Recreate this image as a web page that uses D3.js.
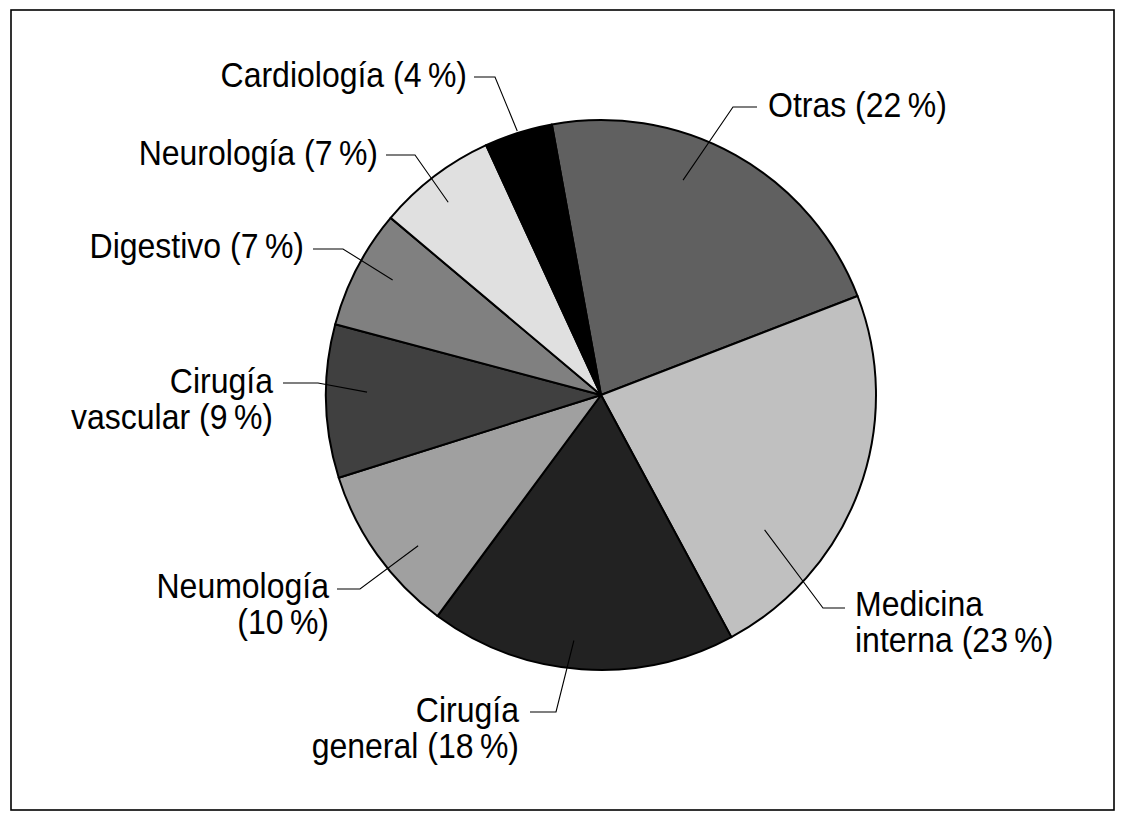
<!DOCTYPE html>
<html>
<head>
<meta charset="utf-8">
<script src="https://cdn.jsdelivr.net/npm/d3@7"></script>
<style>
  html, body { margin: 0; padding: 0; background: #fff; }
  svg { display: block; }
  text { font-family: "Liberation Sans", Arial, Helvetica, sans-serif; }
</style>
</head>
<body>
<svg id="chart" width="1126" height="823"></svg>
<script>
// ---- data ----
const categories = ["Otras", "Medicina interna", "Cirugía general", "Neumología",
                    "Cirugía vascular", "Digestivo", "Neurología", "Cardiología"];
const values = [22, 23, 18, 10, 9, 7, 7, 4];
const labelLines = [
  ["Otras (22\u2009%)"],
  ["Medicina", "interna (23\u2009%)"],
  ["Cirugía", "general (18\u2009%)"],
  ["Neumología", "(10\u2009%)"],
  ["Cirugía", "vascular (9\u2009%)"],
  ["Digestivo (7\u2009%)"],
  ["Neurología (7\u2009%)"],
  ["Cardiología (4\u2009%)"]
];
const fills = ["#606060", "#c0c0c0", "#222222", "#a0a0a0", "#404040", "#808080", "#e0e0e0", "#000000"];

// ---- layout (annotation placement) ----
const cx = 601, cy = 395, R = 275;
const startDeg = -10.3;
// leader: inner end (angle deg, radius px), elbow (x,y), horizontal end x, text anchor x, first baseline y, anchor
const leaders = [
  {a: 20.9,  r: 230, ex: 733, ey: 107, hx: 757, tx: 768, ty: 117, anchor: "start"},
  {a: 129.5, r: 212, ex: 823, ey: 608, hx: 845, tx: 855, ty: 616, anchor: "start"},
  {a: 186.3, r: 247, ex: 556, ey: 712, hx: 530, tx: 519, ty: 722, anchor: "end"},
  {a: 230.5, r: 237, ex: 360, ey: 589, hx: 337, tx: 329, ty: 598, anchor: "end"},
  {a: 270.7, r: 234, ex: 318, ey: 383, hx: 283, tx: 273, ty: 393, anchor: "end"},
  {a: 298.9, r: 238, ex: 343, ey: 249, hx: 313, tx: 304, ty: 258, anchor: "end"},
  {a: 321.6, r: 246, ex: 415, ey: 155, hx: 386, tx: 378, ty: 165, anchor: "end"},
  {a: 342.4, r: 277, ex: 495, ey: 77,  hx: 474, tx: 467, ty: 87,  anchor: "end"}
];
const lineHeight = 36;
const vScale = 1.08;

const svg = d3.select("#chart");

// frame
svg.append("rect")
  .attr("x", 11).attr("y", 10).attr("width", 1103).attr("height", 800)
  .attr("fill", "none").attr("stroke", "#000").attr("stroke-width", 1.6);

const rad = d => d * Math.PI / 180;
const pie = d3.pie().sort(null).value(d => d)
  .startAngle(rad(startDeg)).endAngle(rad(startDeg + 360));
const arcs = pie(values);
const arc = d3.arc().innerRadius(0).outerRadius(R);

const g = svg.append("g").attr("transform", `translate(${cx},${cy})`);
g.selectAll("path.slice").data(arcs).join("path")
  .attr("class", "slice")
  .attr("d", arc)
  .attr("fill", (d, i) => fills[i])
  .attr("stroke", "#000").attr("stroke-width", 2).attr("stroke-linejoin", "round");

// leader lines and labels
const lg = svg.append("g");
leaders.forEach((L, i) => {
  const p = d3.pointRadial(rad(L.a), L.r);
  lg.append("polyline")
    .attr("points", `${cx + p[0]},${cy + p[1]} ${L.ex},${L.ey} ${L.hx},${L.ey}`)
    .attr("fill", "none").attr("stroke", "#000").attr("stroke-width", 1.1);
  const t = svg.append("text")
    .attr("transform", `translate(${L.tx},${L.ty}) scale(1,${vScale})`)
    .attr("text-anchor", L.anchor)
    .attr("font-size", 32).attr("fill", "#000");
  labelLines[i].forEach((s, j) => {
    t.append("tspan").attr("x", 0).attr("y", j * lineHeight / vScale).text(s);
  });
});
</script>
</body>
</html>
